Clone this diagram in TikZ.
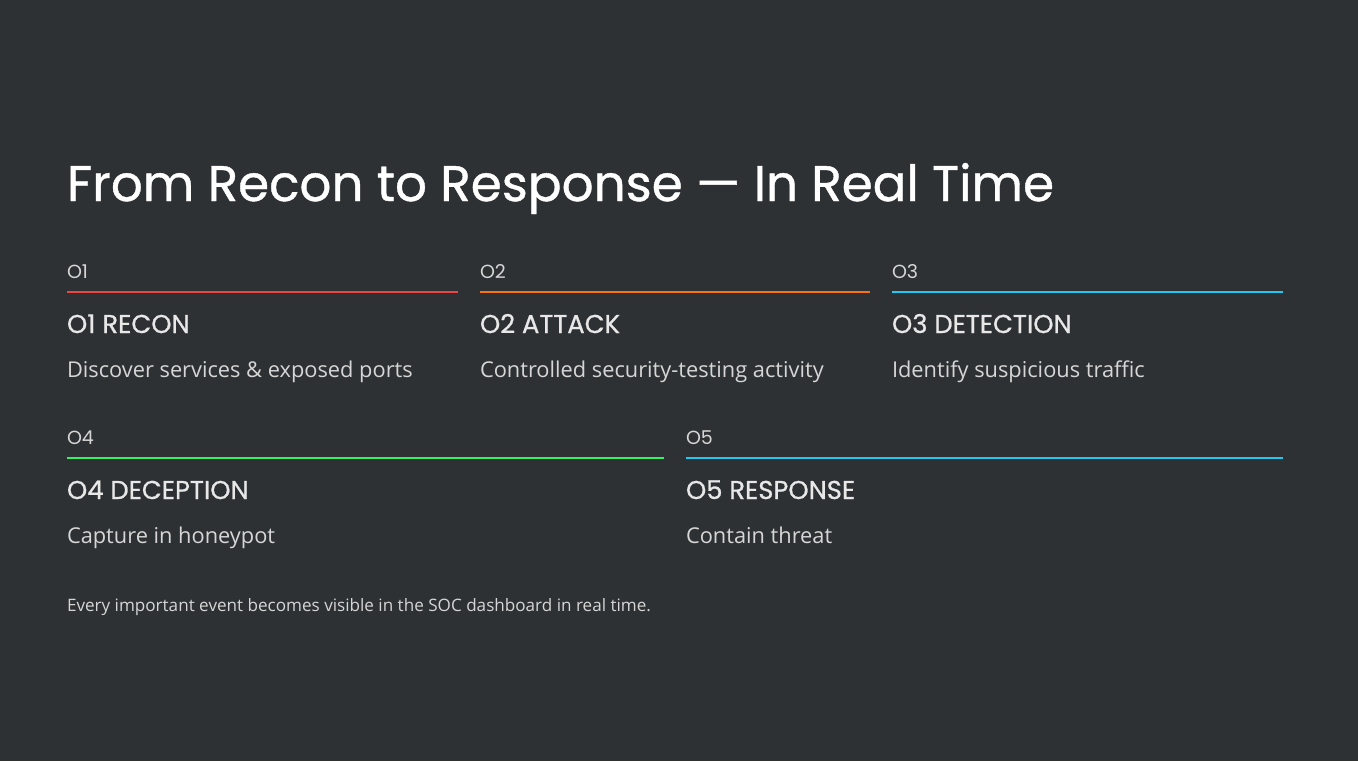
\documentclass[tikz,border=0pt]{standalone}
\usepackage{fontspec}
\setmainfont{Open Sans}
\newfontfamily\titlefont{Poppins}
\newfontfamily\headfont[FakeBold=0.8]{Poppins}
\definecolor{bg}{HTML}{2D3133}
\definecolor{txt}{HTML}{E8E8E8}
\definecolor{sub}{HTML}{D6D6D6}
\definecolor{cred}{HTML}{EF4444}
\definecolor{corange}{HTML}{F97316}
\definecolor{ccyan}{HTML}{22C8F0}
\definecolor{cgreen}{HTML}{33F06A}
\begin{document}
\begin{tikzpicture}[x=1pt,y=-1pt,
  txtnode/.style={anchor=base west,inner sep=0pt,outer sep=0pt},
  titlestyle/.style={txtnode,text=white,font=\headfont\fontsize{50}{60}\selectfont},
  numstyle/.style={txtnode,text=sub,font=\titlefont\fontsize{19}{22}\selectfont},
  headstyle/.style={txtnode,text=txt,font=\headfont\fontsize{25.8}{30}\selectfont},
  descstyle/.style={txtnode,text=sub,font=\fontsize{21.8}{26}\selectfont},
  footstyle/.style={txtnode,text=sub,font=\fontsize{17.1}{20}\selectfont},
  bar/.style={line width=2.4pt}]
\fill[bg] (0,0) rectangle (1358,761);
\useasboundingbox (0,0) rectangle (1358,761);
\node[titlestyle] (title) at (67,201) {From Recon to Response — In Real Time};
% row 1
\node[numstyle] (n1) at (67,278) {O1};
\node[numstyle] (n2) at (480,278) {O2};
\node[numstyle] (n3) at (892,278) {O3};
\coordinate (l1a) at (67,292); \coordinate (l1b) at (458,292);
\coordinate (l2a) at (480,292); \coordinate (l2b) at (870,292);
\coordinate (l3a) at (892,292); \coordinate (l3b) at (1283,292);
\draw[bar,cred] (l1a) -- (l1b);
\draw[bar,corange] (l2a) -- (l2b);
\draw[bar,ccyan] (l3a) -- (l3b);
\node[headstyle] (h1) at (67,333) {O1 RECON};
\node[headstyle] (h2) at (480,333) {O2 ATTACK};
\node[headstyle] (h3) at (892,333) {O3 DETECTION};
\node[descstyle] (d1) at (67,377) {Discover services \& exposed ports};
\node[descstyle] (d2) at (480,377) {Controlled security-testing activity};
\node[descstyle] (d3) at (892,377) {Identify suspicious traffic};
% row 2
\node[numstyle] (n4) at (67,444) {O4};
\node[numstyle] (n5) at (686,444) {O5};
\coordinate (l4a) at (67,458); \coordinate (l4b) at (664,458);
\coordinate (l5a) at (686,458); \coordinate (l5b) at (1283,458);
\draw[bar,cgreen] (l4a) -- (l4b);
\draw[bar,ccyan] (l5a) -- (l5b);
\node[headstyle] (h4) at (67,499) {O4 DECEPTION};
\node[headstyle] (h5) at (686,499) {O5 RESPONSE};
\node[descstyle] (d4) at (67,543) {Capture in honeypot};
\node[descstyle] (d5) at (686,543) {Contain threat};
\node[footstyle] (foot) at (67,611) {Every important event becomes visible in the SOC dashboard in real time.};
\end{tikzpicture}
\end{document}
